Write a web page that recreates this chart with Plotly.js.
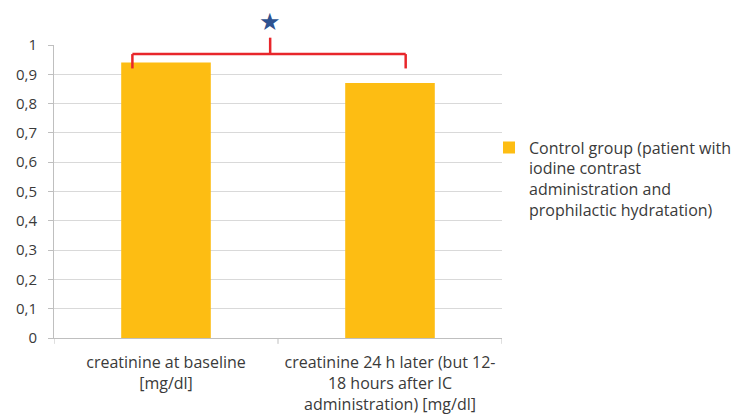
<!DOCTYPE html>
<html>
<head>
<meta charset="utf-8">
<script src="https://cdn.plot.ly/plotly-3.0.1.min.js"></script>
<style>
  html, body { margin: 0; padding: 0; background: #fff; }
  #chart { width: 742px; height: 418px; }
</style>
</head>
<body>
<div id="chart"></div>
<script>
// Creatinine means for the control group
const categories = [
  'creatinine at baseline<br>[mg/dl]',
  'creatinine 24 h later (but 12-<br>18 hours after IC<br>administration) [mg/dl]'
];
const values = [0.94, 0.87];
const seriesName = 'Control group (patient with<br>iodine contrast<br>administration and<br>prophilactic hydratation)';
const yTickVals = [0, 0.1, 0.2, 0.3, 0.4, 0.5, 0.6, 0.7, 0.8, 0.9, 1];
const yTickText = ['0', '0,1', '0,2', '0,3', '0,4', '0,5', '0,6', '0,7', '0,8', '0,9', '1'];

// Significance bracket between the two bars
// (x in category index units, y as a fraction of the 0..1 value axis)
const bracketX = [-0.15, 1.07];
const bracketMidX = 0.465;
const bracketY = 0.969;
const bracketFootY = 0.92;
const bracketTopY = 1.025;
const starY = 1.078;

const family = 'Open Sans, Liberation Sans, sans-serif';
const textColor = '#3a3a3a';
const red = '#e8262b';
const axisGrey = '#bfbfbf';

const trace = {
  type: 'bar',
  x: [0, 1],
  y: values,
  name: seriesName,
  marker: { color: '#fdbd13' },
  showlegend: true,
  hoverinfo: 'none'
};

const lineShape = (x0, y0, x1, y1) => ({
  type: 'line', xref: 'x', yref: 'paper', x0, y0, x1, y1,
  line: { color: red, width: 2.5 }
});

const tickShape = (x) => ({
  type: 'line', xref: 'x', yref: 'paper', x0: x, x1: x, y0: 0, y1: -0.02,
  line: { color: axisGrey, width: 1 }
});

const layout = {
  width: 742,
  height: 418,
  margin: { l: 54, r: 240, t: 45, b: 80, autoexpand: false },
  paper_bgcolor: '#ffffff',
  plot_bgcolor: '#ffffff',
  font: { family: family, size: 16, color: textColor },
  bargap: 0.6,
  showlegend: true,
  legend: {
    x: 0.971, y: 0.708, xanchor: 'left', yanchor: 'top',
    valign: 'top',
    font: { family: family, size: 16, color: textColor },
    itemwidth: 30,
    bgcolor: 'rgba(0,0,0,0)'
  },
  xaxis: {
    range: [-0.5, 1.5],
    tickmode: 'array',
    tickvals: [0, 1],
    ticktext: categories,
    showgrid: false,
    showline: true,
    linecolor: axisGrey,
    linewidth: 1,
    ticks: '',
    ticklabelstandoff: 10,
    tickfont: { family: family, size: 16, color: textColor },
    fixedrange: true,
    zeroline: false
  },
  yaxis: {
    range: [0, 1],
    tickmode: 'array',
    tickvals: yTickVals,
    ticktext: yTickText,
    showgrid: true,
    gridcolor: '#d9d9d9',
    gridwidth: 1,
    showline: true,
    linecolor: axisGrey,
    ticks: 'outside',
    ticklen: 5,
    tickcolor: axisGrey,
    ticklabelstandoff: 8,
    tickfont: { family: family, size: 15, color: textColor },
    zeroline: false,
    fixedrange: true
  },
  shapes: [
    // category separators on the x axis
    tickShape(-0.5),
    tickShape(0.5),
    tickShape(1.5),
    lineShape(bracketX[0], bracketY, bracketX[1], bracketY),
    lineShape(bracketX[0], bracketY, bracketX[0], bracketFootY),
    lineShape(bracketX[1], bracketY, bracketX[1], bracketFootY),
    lineShape(bracketMidX, bracketY, bracketMidX, bracketTopY)
  ],
  annotations: [
    {
      x: bracketMidX, y: starY, xref: 'x', yref: 'paper',
      xanchor: 'center', yanchor: 'middle',
      text: '★', showarrow: false,
      font: { family: 'DejaVu Sans, sans-serif', size: 24, color: '#2e5290' }
    }
  ]
};

Plotly.newPlot('chart', [trace], layout, { displayModeBar: false, staticPlot: true });
</script>
</body>
</html>
